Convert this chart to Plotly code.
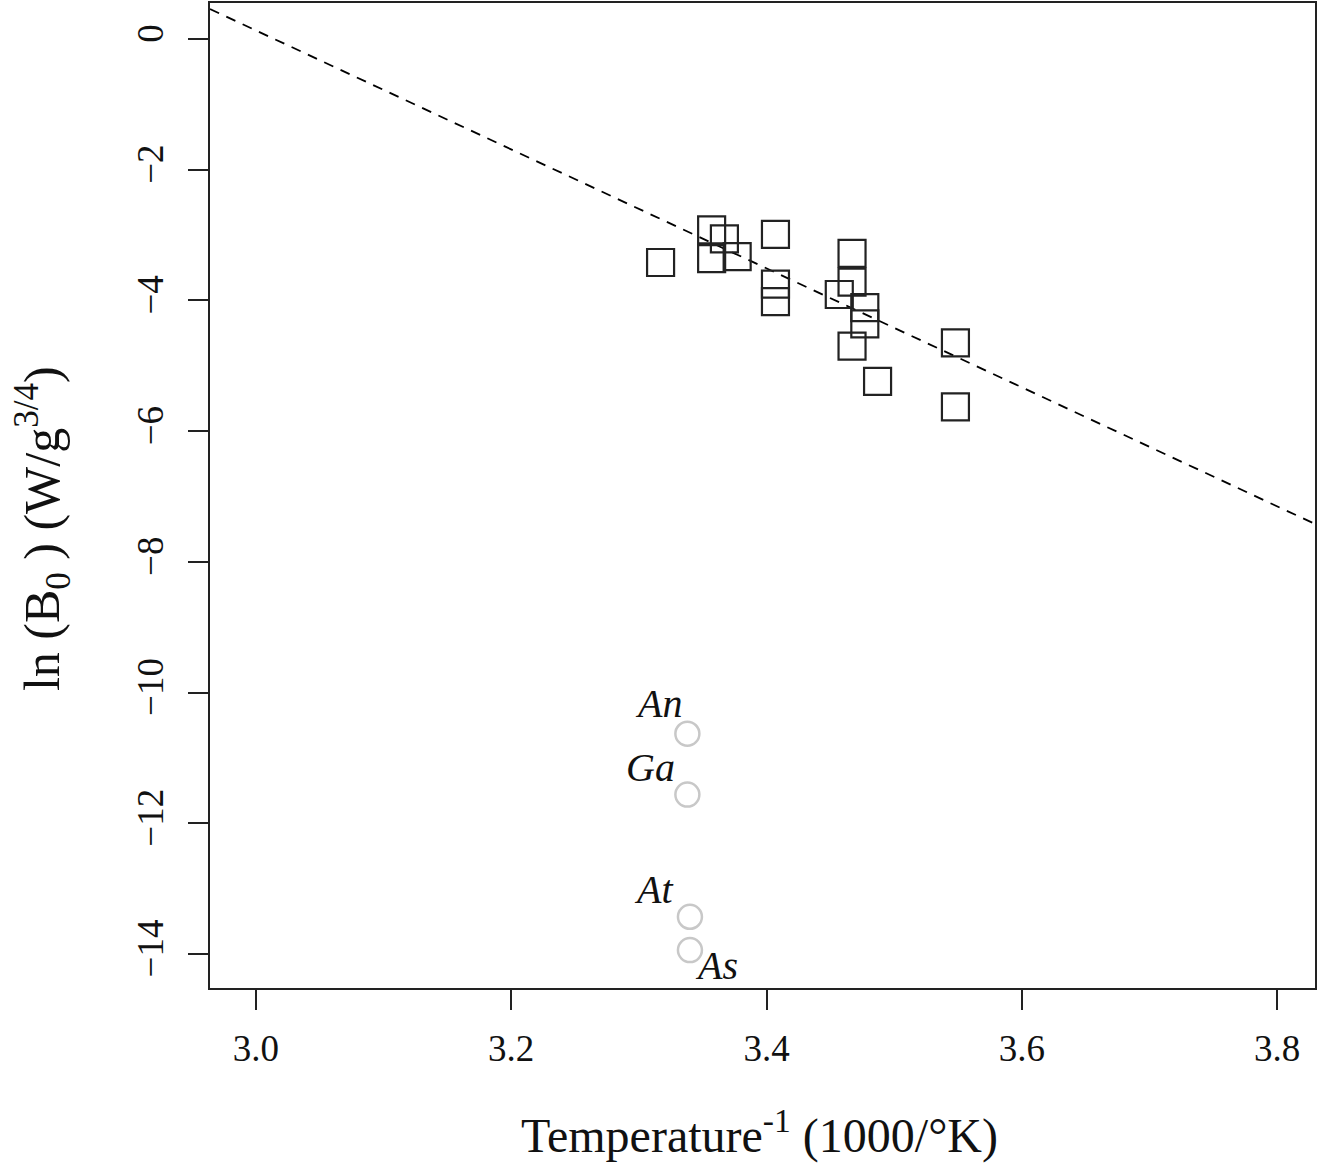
import plotly.graph_objects as go

# Data
sq_x = [3.317, 3.357, 3.367, 3.357, 3.377, 3.407, 3.407, 3.407,
        3.467, 3.467, 3.457, 3.477, 3.477, 3.467, 3.487, 3.548, 3.548]
sq_y = [-3.42, -2.92, -3.06, -3.36, -3.33, -2.99, -3.75, -4.02,
        -3.28, -3.72, -3.91, -4.11, -4.36, -4.70, -5.24, -4.65, -5.63]

circ_x = [3.338, 3.338, 3.340, 3.340]
circ_y = [-10.63, -11.56, -13.43, -13.94]
circ_labels = ["An", "Ga", "At", "As"]

fit_intercept = 27.43
fit_slope = -9.10

x_range = [2.964, 3.8297]
y_range = [-14.52, 0.55]
x_ticks = [3.0, 3.2, 3.4, 3.6, 3.8]
y_ticks = [0, -2, -4, -6, -8, -10, -12, -14]

x_title = "Temperature<sup>-1</sup> (1000/°K)"
y_title = "ln (B<sub>0</sub> ) (W/g<sup>3/4</sup>)"

FONT = "Liberation Serif, Times New Roman, serif"

fig = go.Figure()

line_x = x_range
line_y = [fit_intercept + fit_slope * v for v in line_x]
fig.add_trace(go.Scatter(x=line_x, y=line_y, mode="lines",
                         line=dict(color="black", width=1.8, dash="10px,8px"),
                         showlegend=False, hoverinfo="skip"))

fig.add_trace(go.Scatter(x=sq_x, y=sq_y, mode="markers",
                         marker=dict(symbol="square-open", size=27, color="#222222",
                                     line=dict(width=2.2, color="#222222")),
                         showlegend=False))

fig.add_trace(go.Scatter(x=circ_x, y=circ_y, mode="markers",
                         marker=dict(symbol="circle-open", size=24, color="#c8c8c8",
                                     line=dict(width=2.5, color="#c8c8c8")),
                         showlegend=False))

shifts = [(-29, 30), (-37, 27), (-36, 27), (27, -15)]
for lx, ly, lab, (dx, dy) in zip(circ_x, circ_y, circ_labels, shifts):
    fig.add_annotation(x=lx, y=ly, text=f"<i>{lab}</i>", showarrow=False,
                       xshift=dx, yshift=dy,
                       font=dict(family=FONT, size=40, color="#111111"))

fig.add_annotation(xref="paper", yref="paper", x=(760 - 210) / 1106, y=(988 - 1133) / 987,
                   text=x_title, showarrow=False, xanchor="center", yanchor="middle",
                   font=dict(family=FONT, size=48, color="#111111"))
fig.add_annotation(xref="paper", yref="paper", x=(43 - 210) / 1106, y=(988 - 528) / 987,
                   text=y_title, showarrow=False, textangle=-90,
                   xanchor="center", yanchor="middle",
                   font=dict(family=FONT, size=50, color="#111111"))

axis_common = dict(showline=True, linecolor="#222222", linewidth=2, mirror=True,
                   ticks="outside", ticklen=20, tickwidth=2, tickcolor="#222222",
                   showgrid=False, zeroline=False,
                   tickfont=dict(family=FONT, size=37, color="#111111"))

fig.update_xaxes(range=x_range, tickvals=x_ticks, tickformat=".1f",
                 ticklabelstandoff=7, **axis_common)
fig.update_yaxes(range=y_range, tickvals=y_ticks, tickangle=-90,
                 ticklabelstandoff=10, **axis_common)

fig.update_layout(width=1318, height=1164,
                  margin=dict(l=210, r=2, t=1, b=176),
                  plot_bgcolor="white", paper_bgcolor="white",
                  showlegend=False)

fig.write_html("out.html")
